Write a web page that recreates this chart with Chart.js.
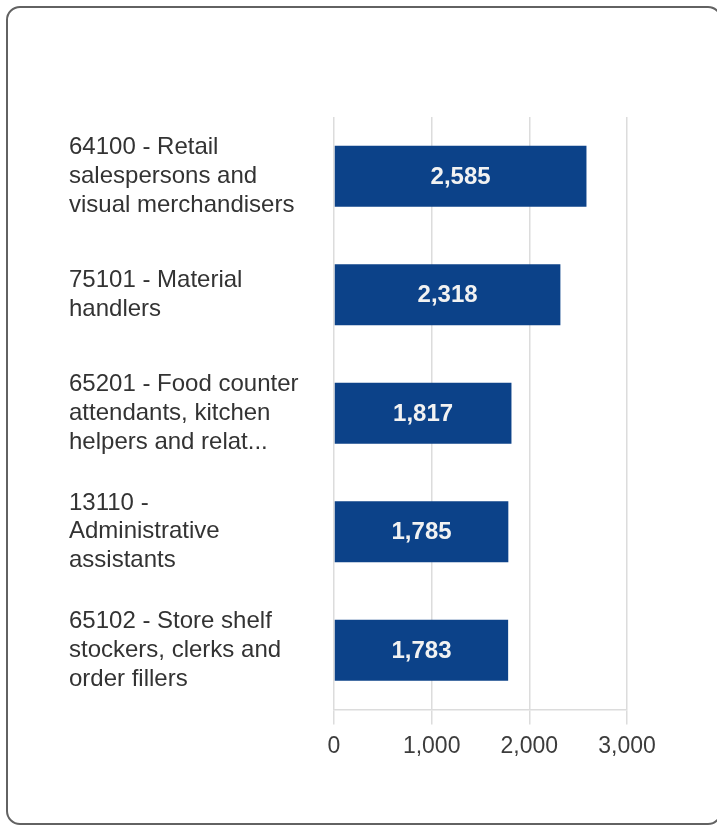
<!DOCTYPE html>
<html>
<head>
<meta charset="utf-8">
<script src="https://cdn.jsdelivr.net/npm/chart.js@4"></script>
<style>
    html, body { margin: 0; padding: 0; background: #fff; }
    body { width: 717px; height: 825px; position: relative; overflow: hidden; }
    .card {
        position: absolute;
        left: 6px; top: 6px;
        width: 716px; height: 819px;
        border: 2px solid #626262;
        border-radius: 14px;
        box-sizing: border-box;
    }
    #chart { position: absolute; left: 0; top: 0; }
</style>
</head>
<body>
<div class="card"></div>
<canvas id="chart" width="717" height="825"></canvas>
<script>
// Occupations (already wrapped the way the reference shows them)
const occupations = [
    ["64100 - Retail", "salespersons and", "visual merchandisers"],
    ["75101 - Material", "handlers"],
    ["65201 - Food counter", "attendants, kitchen", "helpers and relat..."],
    ["13110 -", "Administrative", "assistants"],
    ["65102 - Store shelf", "stockers, clerks and", "order fillers"]
];
const jobCounts = [2585, 2318, 1817, 1785, 1783];
const xTicks = [0, 1000, 2000, 3000];

const fontFamily = "'Liberation Sans', Arial, sans-serif";

// Draw the value inside each bar
const barValues = {
    id: "barValues",
    afterDatasetsDraw(chart) {
        const ctx = chart.ctx;
        const meta = chart.getDatasetMeta(0);
        ctx.save();
        ctx.font = "bold 24px " + fontFamily;
        ctx.fillStyle = "#f2f2f2";
        ctx.textAlign = "center";
        ctx.textBaseline = "middle";
        meta.data.forEach((bar, i) => {
            const mid = (bar.x + bar.base) / 2;
            ctx.fillText(jobCounts[i].toLocaleString("en-US"), mid, bar.y + 1);
        });
        ctx.restore();
    }
};

new Chart(document.getElementById("chart"), {
    type: "bar",
    data: {
        labels: occupations,
        datasets: [{
            data: jobCounts,
            backgroundColor: "#0c4289",
            borderWidth: 0,
            categoryPercentage: 1,
            barPercentage: 0.515
        }]
    },
    options: {
        indexAxis: "y",
        responsive: false,
        animation: false,
        layout: { padding: { left: 69, right: 90, top: 117, bottom: 57 } },
        plugins: {
            legend: { display: false },
            tooltip: { enabled: false }
        },
        scales: {
            x: {
                min: 0,
                max: 3000,
                afterBuildTicks: axis => {
                    axis.ticks = xTicks.map(v => ({ value: v }));
                },
                grid: {
                    color: "#dcdcdc",
                    lineWidth: 1.5,
                    tickLength: 15,
                    drawTicks: true
                },
                border: { display: true, color: "#dcdcdc", width: 1.5 },
                ticks: {
                    color: "#3c3c3c",
                    padding: 8,
                    font: { family: fontFamily, size: 23 },
                    callback: v => v.toLocaleString("en-US")
                }
            },
            y: {
                afterFit: axis => { axis.width = 265; },
                grid: { display: false },
                border: { display: false },
                ticks: {
                    crossAlign: "far",
                    color: "#333333",
                    font: { family: fontFamily, size: 24, lineHeight: 1.2 }
                }
            }
        }
    },
    plugins: [barValues]
});
</script>
</body>
</html>
